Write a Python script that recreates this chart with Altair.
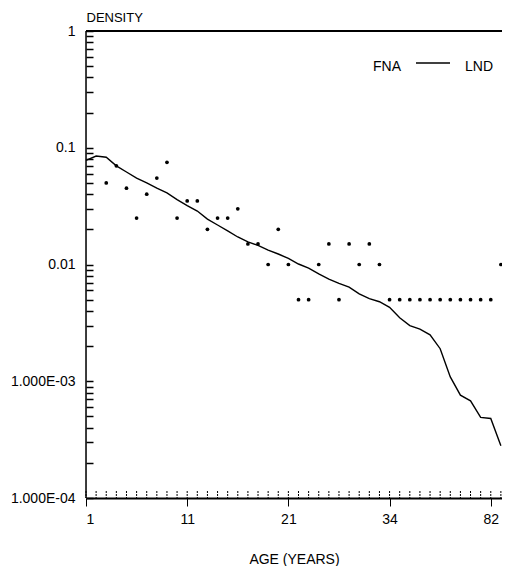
import altair as alt
import pandas as pd

# ---- data ----
FNA_INDEX = list(range(3, 43))
FNA_DENSITY = [0.05, 0.07, 0.045, 0.025, 0.04, 0.055, 0.075, 0.025, 0.035, 0.035,
               0.02, 0.025, 0.025, 0.03, 0.015, 0.015, 0.01, 0.02, 0.01, 0.005,
               0.005, 0.01, 0.015, 0.005, 0.015, 0.01, 0.015, 0.01, 0.005, 0.005,
               0.005, 0.005, 0.005, 0.005, 0.005, 0.005, 0.005, 0.005, 0.005, 0.01]

LND_INDEX = list(range(1, 43))
LND_DENSITY = [0.078, 0.085, 0.083, 0.070, 0.062, 0.055, 0.050, 0.045, 0.041, 0.036,
               0.032, 0.0287, 0.0245, 0.0218, 0.0194, 0.0172, 0.0156, 0.0146, 0.0133, 0.0123,
               0.0113, 0.0101, 0.0093, 0.0083, 0.0075, 0.0069, 0.0064, 0.0056, 0.0051, 0.0048,
               0.0043, 0.0035, 0.0030, 0.0028, 0.0025, 0.0019, 0.00109, 0.00076, 0.00068, 0.00049,
               0.00048, 0.00028]

X_TICK_POS = [1, 11, 21, 31, 41]
X_TICK_LABELS = ["1", "11", "21", "34", "82"]
X_MINOR = list(range(1, 43))

Y_TICKS = [1, 0.1, 0.01, 0.001, 0.0001]
Y_TICK_LABELS = ["1", "0.1", "0.01", "1.000E-03", "1.000E-04"]
Y_MINOR = [round(k * 10.0 ** e, 6) for e in range(-4, 0) for k in range(1, 10)] + [1.0]

LEGEND_LABELS = ["FNA", "LND"]

FONT = "Liberation Sans"
W, H = 416, 467
TICK = 7

xscale = alt.Scale(domain=[1, 42.11], nice=False, zero=False)
yscale = alt.Scale(type="log", domain=[0.0001, 1], nice=False)


def label_expr(vals, labs):
    expr = "''"
    for v, l in reversed(list(zip(vals, labs))):
        expr = f"abs(datum.value - {v}) < {v * 0.01} ? '{l}' : ({expr})"
    return expr


fna = pd.DataFrame({"i": FNA_INDEX, "v": FNA_DENSITY})
lnd = pd.DataFrame({"i": LND_INDEX, "v": LND_DENSITY})
xminor = pd.DataFrame({"i": X_MINOR})

x_axis = alt.Axis(values=X_TICK_POS, labelExpr=label_expr(X_TICK_POS, X_TICK_LABELS),
                  tickSize=8, tickColor="black", tickWidth=1,
                  domainColor="black", domainWidth=2, grid=False,
                  labelFont=FONT, labelFontSize=14, labelColor="black", labelPadding=6,
                  title="AGE (YEARS)", titleFont=FONT, titleFontSize=14,
                  titleFontWeight="normal", titleColor="black",
                  titleY=65, titleBaseline="alphabetic")

# y axis drawn TICK px inside the plot so that its ticks point inward
y_axis = alt.Axis(values=Y_MINOR, labelExpr=label_expr(Y_TICKS, Y_TICK_LABELS),
                  offset=-TICK, domain=False,
                  tickSize=TICK, tickColor="black", tickWidth=1.5, grid=False,
                  labelOverlap=False,
                  labelFont=FONT, labelFontSize=14, labelColor="black", labelPadding=11,
                  title="DENSITY", titleFont=FONT, titleFontSize=13,
                  titleFontWeight="normal", titleColor="black", titleAngle=0,
                  titleAlign="left", titleX=-TICK, titleY=-10, titleBaseline="alphabetic")

X = lambda: alt.X("i:Q", scale=xscale, axis=x_axis)
Y = lambda: alt.Y("v:Q", scale=yscale, axis=y_axis)

points = alt.Chart(fna).mark_circle(size=14, color="black", opacity=1).encode(x=X(), y=Y())

line = alt.Chart(lnd).mark_line(color="black", strokeWidth=1.4).encode(x=X(), y=Y())

xticks = alt.Chart(xminor).mark_rule(color="black", strokeWidth=1, strokeDash=[2, 1]).encode(
    x=X(),
    y=alt.value(H - 7),
    y2=alt.value(H),
)

left_rule = alt.Chart(pd.DataFrame({"a": [0]})).mark_rule(color="black", strokeWidth=1.5).encode(
    x=alt.value(0), y=alt.value(0), y2=alt.value(H)
)

top_rule = alt.Chart(pd.DataFrame({"a": [0]})).mark_rule(color="black", strokeWidth=2).encode(
    x=alt.value(0), x2=alt.value(W), y=alt.value(0)
)

leg_fna = alt.Chart(pd.DataFrame({"t": [LEGEND_LABELS[0]]})).mark_text(
    font=FONT, fontSize=14, align="left", baseline="alphabetic", color="black"
).encode(text="t:N", x=alt.value(287), y=alt.value(40))

leg_lnd = alt.Chart(pd.DataFrame({"t": [LEGEND_LABELS[1]]})).mark_text(
    font=FONT, fontSize=14, align="left", baseline="alphabetic", color="black"
).encode(text="t:N", x=alt.value(379), y=alt.value(40))

leg_line = alt.Chart(pd.DataFrame({"a": [0]})).mark_rule(color="black", strokeWidth=1.5).encode(
    x=alt.value(330), x2=alt.value(364), y=alt.value(32)
)

chart = alt.layer(points, line, xticks, left_rule, top_rule, leg_fna, leg_line, leg_lnd).properties(
    width=W, height=H,
    autosize=alt.AutoSizeParams(type="none"),
    padding={"left": 78, "top": 23, "right": 0, "bottom": 68},
).configure_view(stroke=None).configure(background="white")

chart.save("out.html", embed_options={"renderer": "svg", "actions": False})
